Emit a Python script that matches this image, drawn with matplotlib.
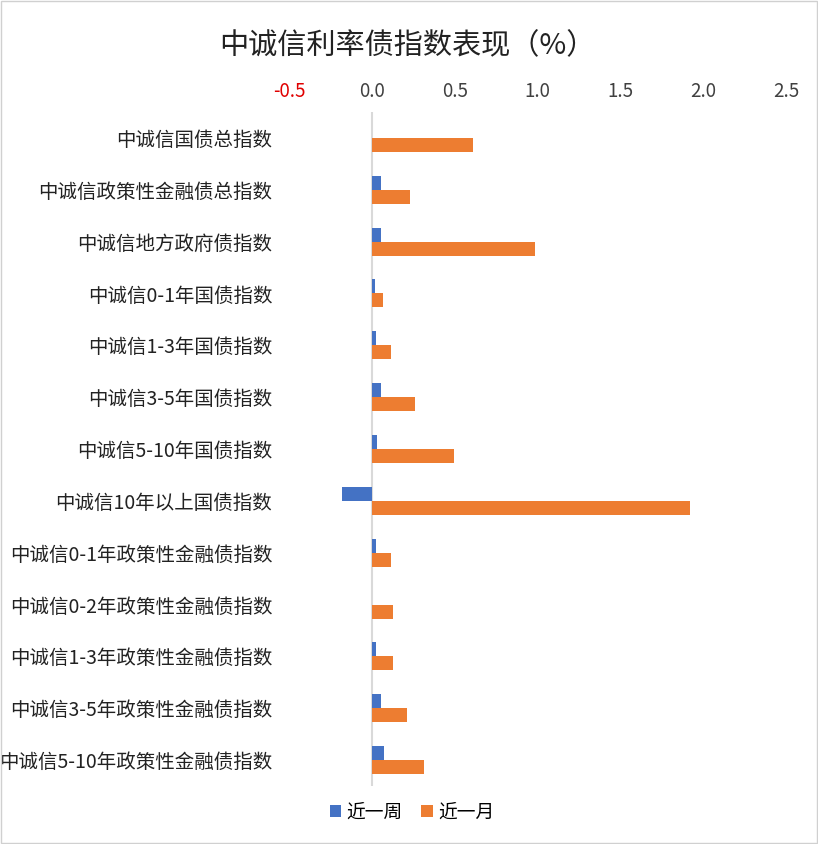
import matplotlib.pyplot as plt
import numpy as np

plt.rcParams['font.family'] = ['Noto Sans CJK SC', 'DejaVu Sans']

categories = ['中诚信国债总指数', '中诚信政策性金融债总指数', '中诚信地方政府债指数',
              '中诚信0-1年国债指数', '中诚信1-3年国债指数', '中诚信3-5年国债指数',
              '中诚信5-10年国债指数', '中诚信10年以上国债指数', '中诚信0-1年政策性金融债指数',
              '中诚信0-2年政策性金融债指数', '中诚信1-3年政策性金融债指数',
              '中诚信3-5年政策性金融债指数', '中诚信5-10年政策性金融债指数']
week = [0.0, 0.053, 0.053, 0.022, 0.028, 0.058, 0.034, -0.18, 0.028, 0.0, 0.028, 0.058, 0.072]
month = [0.608, 0.23, 0.985, 0.065, 0.115, 0.26, 0.495, 1.92, 0.115, 0.127, 0.127, 0.21, 0.315]
xticks = [-0.5, 0.0, 0.5, 1.0, 1.5, 2.0, 2.5]

fig = plt.figure(figsize=(8.18, 8.44), dpi=100)
ax = fig.add_axes([289 / 818, 1 - 786 / 844, 497 / 818, 674 / 844])

y = np.arange(len(categories))
h = 0.27
ax.barh(y - h / 2, week, height=h, color='#4472C4', label='近一周')
ax.barh(y + h / 2, month, height=h, color='#ED7D31', label='近一月')

ax.set_xlim(-0.5, 2.5)
ax.set_ylim(len(categories) - 0.5, -0.5)
ax.axvline(0, color='#D9D9D9', lw=1.5, zorder=0)

# value axis on top, negative tick in red
ax.xaxis.tick_top()
ax.set_xticks(xticks)
ax.set_xticklabels([f'{t:.1f}' for t in xticks], fontsize=13.5, color='#404040')
ax.get_xticklabels()[0].set_color('#E00000')
ax.tick_params(axis='x', length=0, pad=7)
ax.set_yticks(y)
ax.set_yticklabels(categories, fontsize=14, color='#222222')
ax.tick_params(axis='y', length=0, pad=12)

for s in ax.spines.values():
    s.set_visible(False)

fig.text(407 / 818, 1 - 46 / 844, '中诚信利率债指数表现（%）', fontsize=21,
         ha='center', va='center', color='#222222')

fig.legend(loc='center', bbox_to_anchor=(412 / 818, 1 - 812 / 844), ncol=2,
           frameon=False, fontsize=13.5, handlelength=0.6, handleheight=0.6,
           columnspacing=1.0, handletextpad=0.3)

border = plt.Rectangle((0.001, 0.001), 0.998, 0.998, transform=fig.transFigure,
                       fill=False, edgecolor='#D0D0D0', lw=1)
fig.patches.append(border)

fig.savefig('out.png', dpi=100)
